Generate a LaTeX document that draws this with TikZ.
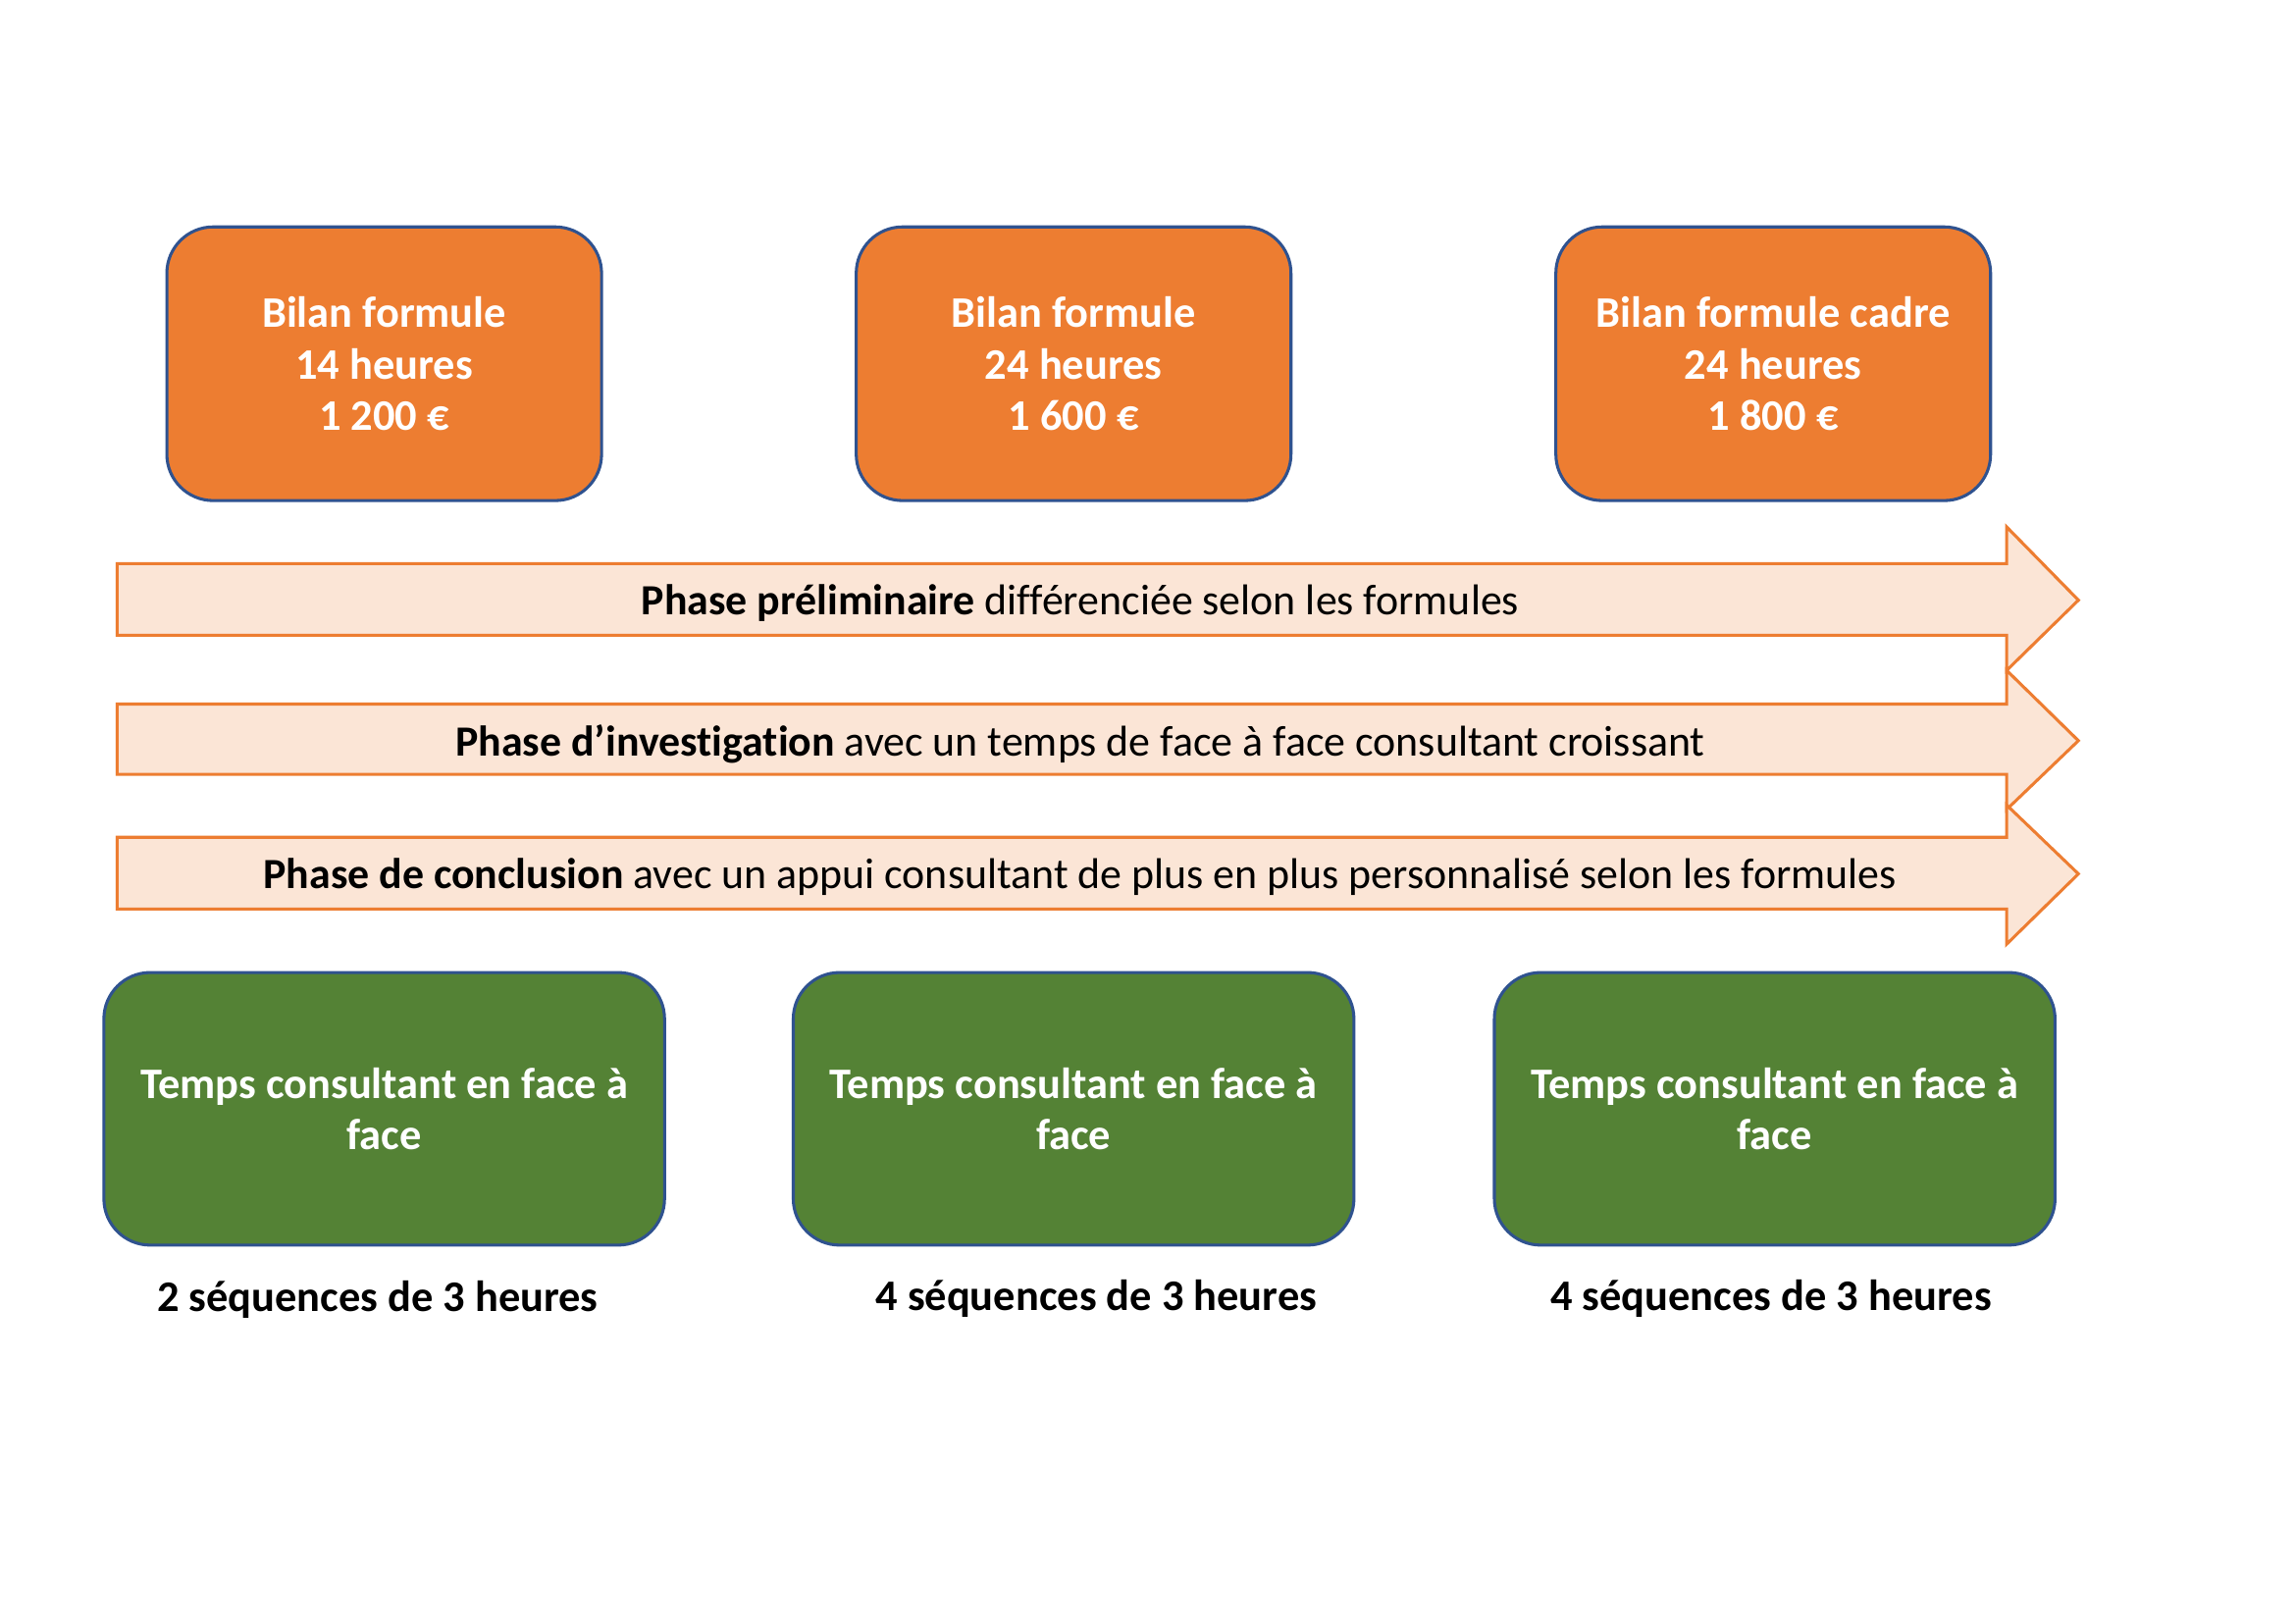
\documentclass[tikz,border=0pt]{standalone}
\usepackage{fontspec}
\setmainfont{Carlito}[Ligatures={NoCommon}]
\definecolor{orangeA}{HTML}{ED7D31}
\definecolor{greenA}{HTML}{548235}
\definecolor{blueA}{HTML}{2F528F}
\definecolor{peach}{HTML}{FBE5D6}
\begin{document}
\begin{tikzpicture}[x=0.537pt,y=-0.537pt,
  obox/.style={draw=blueA, line width=1.1pt, fill=orangeA, rounded corners=17pt,
    minimum width=159.5pt, minimum height=100.4pt, text=white, align=center, inner sep=0pt,
    font=\fontsize{16}{19}\selectfont\bfseries},
  gbox/.style={draw=blueA, line width=1.1pt, fill=greenA, rounded corners=17pt,
    minimum width=205.7pt, minimum height=100pt, text=white, align=center, inner sep=0pt,
    font=\fontsize{16}{19}\selectfont\bfseries},
  phase/.style={draw=orangeA, line width=1.1pt, fill=peach, line join=miter},
  ptext/.style={font=\fontsize{15.8}{19}\selectfont, inner sep=0pt},
  seq/.style={font=\fontsize{16}{19}\selectfont\bfseries, inner sep=0pt}]
\useasboundingbox (0,0) rectangle (1568,1108.8);
\fill[white] (0,0) rectangle (1568,1108.8);

% top boxes
\node[obox] (b1) at (262.5,248.5) {Bilan formule\\14 heures\\1 200 €};
\node[obox] (b2) at (733.5,248.5) {Bilan formule\\24 heures\\1 600 €};
\node[obox] (b3) at (1211.5,248.5) {Bilan formule cadre\\24 heures\\1 800 €};

% phase arrows
\draw[phase] (80,385) -- (1371,385) -- (1371,360) -- (1420,410) -- (1371,458) -- (1371,434) -- (80,434) -- cycle;
\node[ptext] (p1) at (738,412) {\textbf{Phase préliminaire} différenciée selon les formules};
\draw[phase] (80,481) -- (1371,481) -- (1371,458) -- (1420,506) -- (1371,553) -- (1371,529) -- (80,529) -- cycle;
\node[ptext] (p2) at (738,508) {\textbf{Phase d’investigation} avec un temps de face à face consultant croissant};
\draw[phase] (80,572) -- (1371,572) -- (1371,550) -- (1420,597) -- (1371,645) -- (1371,621) -- (80,621) -- cycle;
\node[ptext] (p3) at (738,599) {\textbf{Phase de conclusion} avec un appui consultant de plus en plus personnalisé selon les formules};

% bottom boxes
\node[gbox] (g1) at (262.5,757.5) {Temps consultant en face à\\face};
\node[gbox] (g2) at (733.5,757.5) {Temps consultant en face à\\face};
\node[gbox] (g3) at (1212.5,757.5) {Temps consultant en face à\\face};

\node[seq] (s1) at (258,888) {2 séquences de 3 heures};
\node[seq] (s2) at (749,887) {4 séquences de 3 heures};
\node[seq] (s3) at (1210,887) {4 séquences de 3 heures};
\end{tikzpicture}
\end{document}
